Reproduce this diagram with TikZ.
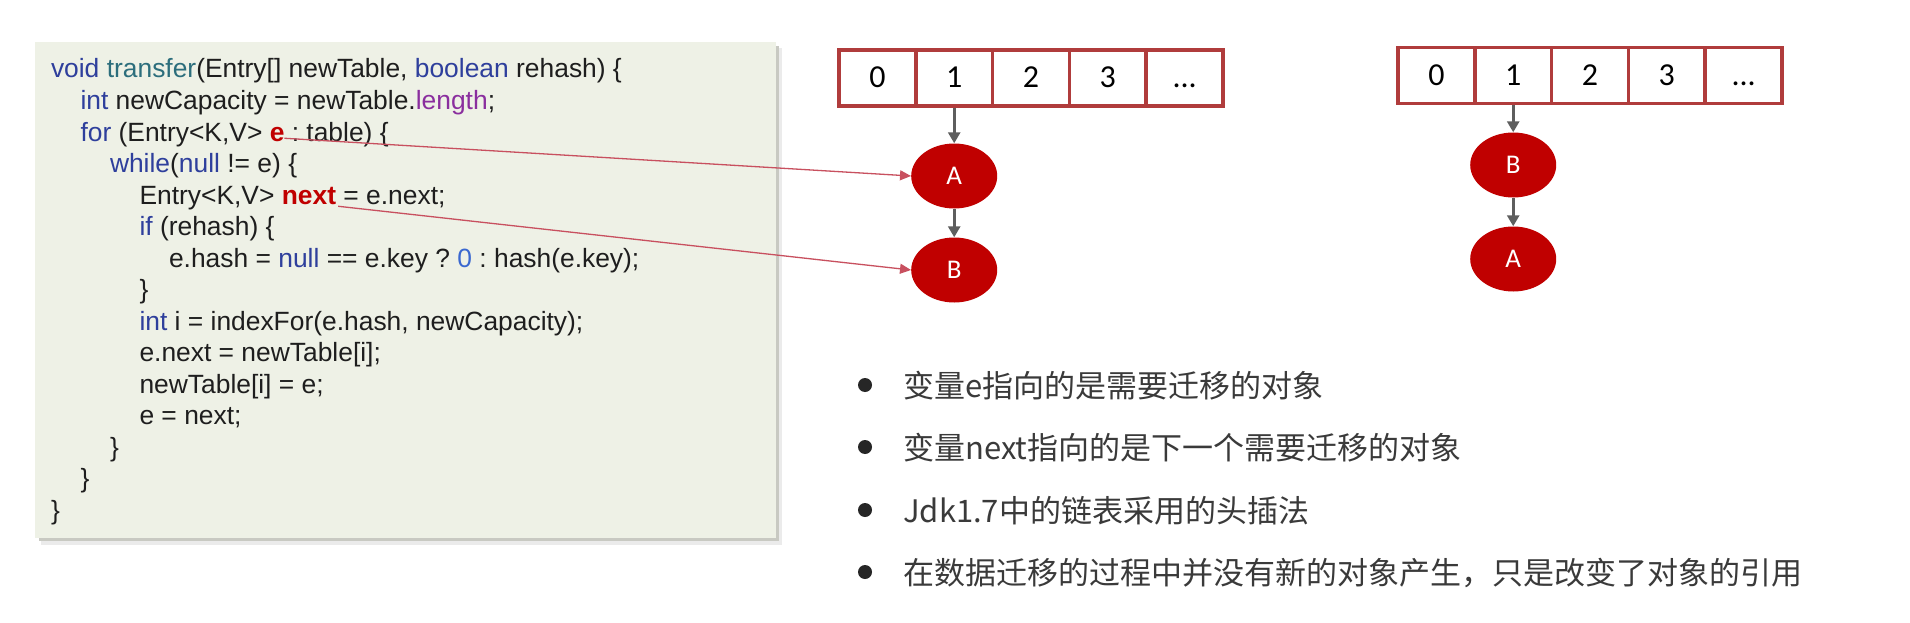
\documentclass[tikz,border=0pt]{standalone}
\usepackage{fontspec}
\setmainfont{Liberation Sans}
\newfontfamily\cjkfont{Noto Sans CJK SC}
\newfontfamily\calfont{Carlito}
\usetikzlibrary{arrows.meta,shapes.geometric}
\definecolor{codetxt}{HTML}{1E1E1E}
\definecolor{kwblue}{HTML}{2E3F9C}
\definecolor{fnteal}{HTML}{2C6E7C}
\definecolor{purp}{HTML}{8A2E9E}
\definecolor{numblue}{HTML}{3A68D0}
\definecolor{hlred}{HTML}{C00000}
\definecolor{panelbg}{HTML}{EEF1E6}
\definecolor{panelsh}{HTML}{C8C9C2}
\definecolor{arrred}{HTML}{B03C3C}
\definecolor{nodered}{HTML}{C00000}
\definecolor{garrow}{HTML}{5E5E5E}
\definecolor{ptrcol}{HTML}{C8505F}
\definecolor{bultxt}{HTML}{3A3A3A}
\newcommand{\kw}[1]{\textcolor{kwblue}{#1}}
\newcommand{\fnm}[1]{\textcolor{fnteal}{#1}}
\newcommand{\hl}[1]{\textcolor{hlred}{\bfseries #1}}
\newcommand{\codesp}{\ \mbox{}}
\frenchspacing
\begin{document}
\begin{tikzpicture}[x=1pt,y=-1pt,
  code/.style={anchor=base west,inner sep=0pt,outer sep=0pt,text=codetxt,font=\fontsize{26.4}{31}\selectfont},
  cell/.style={draw=arrred,line width=3.5pt,fill=white,minimum width=76.8pt,minimum height=56pt,inner sep=0pt,text height=20pt,text depth=0pt,font=\calfont\fontsize{32}{36}\selectfont,text=black},
  ell/.style={ellipse,fill=nodered,minimum width=86pt,minimum height=65pt,inner sep=0pt,text=white,font=\calfont\fontsize{27}{30}\selectfont},
  garr/.style={draw=garrow,line width=3pt,-{Triangle[width=12pt,length=11pt]}},
  ptr/.style={draw=ptrcol,line width=1.3pt,-{Triangle[width=10pt,length=11pt]}},
  dotb/.style={circle,fill=black!85,minimum size=14pt,inner sep=0pt},
  btxt/.style={anchor=base west,inner sep=0pt,text=bultxt,font=\cjkfont\fontsize{31}{36}\selectfont}]
\useasboundingbox (0,0) rectangle (1910,623);
\fill[white] (0,0) rectangle (1910,623);

% code panel
\fill[black!8] (41,48) rectangle (782,545);
\fill[panelsh] (39,46) rectangle (779,541);
\fill[panelbg] (35,42) rectangle (776,538);

% code lines
\node[code] (c1) at (51,78) {\kw{void} \fnm{transfer}(Entry[] newTable, \kw{boolean} rehash) \{};
\node[code] (c2) at (80.5,109.5) {\kw{int} newCapacity = newTable.\textcolor{purp}{length};};
\node[code] (c3a) at (80.5,141) {\kw{for} (Entry<K,V>\codesp};
\node[code] (ve) at (c3a.base east) {\hl{e}};
\node[code] (c3b) at (ve.base east) {\mbox{}\ : table) \{};
\node[code] (c4) at (110,172.5) {\kw{while}(\kw{null} != e) \{};
\node[code] (c5a) at (139.5,204) {Entry<K,V>\codesp};
\node[code] (vn) at (c5a.base east) {\hl{next}};
\node[code] (c5b) at (vn.base east) {\mbox{}\ = e.next;};
\node[code] (c6) at (139.5,235.5) {\kw{if} (rehash) \{};
\node[code] (c7) at (169,267) {e.hash = \kw{null} == e.key ? \textcolor{numblue}{0} : hash(e.key);};
\node[code] (c8) at (139.5,298.5) {\}};
\node[code] (c9) at (139.5,330) {\kw{int} i = indexFor(e.hash, newCapacity);};
\node[code] (c10) at (139.5,361.5) {e.next = newTable[i];};
\node[code] (c11) at (139.5,393) {newTable[i] = e;};
\node[code] (c12) at (139.5,424.5) {e = next;};
\node[code] (c13) at (110,456) {\}};
\node[code] (c14) at (80.5,487.5) {\}};
\node[code] (c15) at (51,519) {\}};

% left array
\node[cell] (a0) at (877.4,78) {0};
\node[cell] (a1) at (954.2,78) {1};
\node[cell] (a2) at (1031,78) {2};
\node[cell] (a3) at (1107.8,78) {3};
\node[cell] (a4) at (1184.6,78) {{.}{.}{.}};
\node[ell] (LA) at (954.2,176) {A};
\node[ell] (LB) at (954.2,270) {B};
\draw[garr] (a1) -- (LA);
\draw[garr] (LA) -- (LB);

% right array
\node[cell] (b0) at (1436.4,75.5) {0};
\node[cell] (b1) at (1513.2,75.5) {1};
\node[cell] (b2) at (1590,75.5) {2};
\node[cell] (b3) at (1666.8,75.5) {3};
\node[cell] (b4) at (1743.6,75.5) {{.}{.}{.}};
\node[ell] (RB) at (1513.2,165) {B};
\node[ell] (RA) at (1513.2,259) {A};
\draw[garr] (b1) -- (RB);
\draw[garr] (RB) -- (RA);

% pointers
\draw[ptr] ([yshift=3pt]ve.south east) -- (LA.west);
\draw[ptr] ([xshift=2pt,yshift=-2pt]vn.south east) -- (LB.west);

% bullets
\node[dotb] (d1) at (865,385) {};
\node[dotb] (d2) at (865,447) {};
\node[dotb] (d3) at (865,510) {};
\node[dotb] (d4) at (865,572) {};
\node[btxt] (t1) at (903,397) {变量e指向的是需要迁移的对象};
\node[btxt] (t2) at (903,459) {变量next指向的是下一个需要迁移的对象};
\node[btxt] (t3) at (903,522) {Jdk1.7中的链表采用的头插法};
\node[btxt] (t4) at (903,584) {在数据迁移的过程中并没有新的对象产生，只是改变了对象的引用};
\end{tikzpicture}
\end{document}
